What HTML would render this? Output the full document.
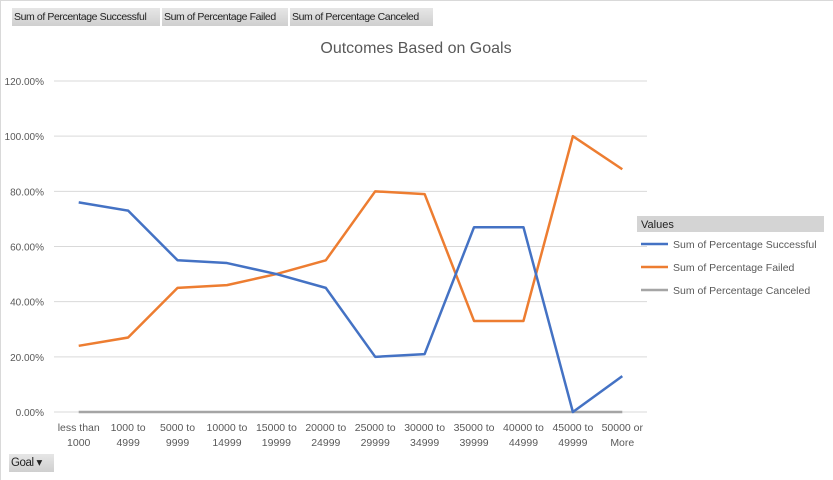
<!DOCTYPE html>
<html><head><meta charset="utf-8"><style>
body{margin:0;background:#fff;font-family:"Liberation Sans",sans-serif}
#wrap{position:relative;width:833px;height:480px;overflow:hidden;background:#fff}
.btn{position:absolute;top:8px;height:18px;background:linear-gradient(#e6e6e6,#cfcfcf);font-size:10.5px;line-height:18px;color:#222;padding:0 2px;box-sizing:border-box;white-space:nowrap;letter-spacing:-0.4px;overflow:hidden}
</style></head><body>
<div id="wrap">
<div style="position:absolute;left:0;top:0;width:832px;height:479px;border:1px solid #d9d9d9"></div>
<div class="btn" style="left:12px;width:148px">Sum of Percentage Successful</div>
<div class="btn" style="left:162px;width:126px">Sum of Percentage Failed</div>
<div class="btn" style="left:290px;width:143px">Sum of Percentage Canceled</div>
<div class="btn" style="left:9px;top:454px;width:45px;font-size:11.5px">Goal ▾</div>
<svg id="svg" width="833" height="480" style="position:absolute;left:0;top:0"></svg>
</div>
<script>
const categories=[["less than","1000"],["1000 to","4999"],["5000 to","9999"],["10000 to","14999"],["15000 to","19999"],["20000 to","24999"],["25000 to","29999"],["30000 to","34999"],["35000 to","39999"],["40000 to","44999"],["45000 to","49999"],["50000 or","More"]];
const successful=[76,73,55,54,50,45,20,21,67,67,0,13];
const failed=[24,27,45,46,50,55,80,79,33,33,100,88];
const canceled=[0,0,0,0,0,0,0,0,0,0,0,0];
const yTicks=[0,20,40,60,80,100,120];
const seriesNames=["Sum of Percentage Successful","Sum of Percentage Failed","Sum of Percentage Canceled"];
const colors=["#4472c4","#ed7d31","#a5a5a5"];
const svg=document.getElementById('svg');const NS="http://www.w3.org/2000/svg";
const x0=54,x1=647,y0=412,y1=81;
const xs=i=>x0+(x1-x0)/categories.length*(i+0.5);
const ys=v=>y0-(y0-y1)*v/120;
function mk(t,a){const e=document.createElementNS(NS,t);for(const k in a)e.setAttribute(k,a[k]);svg.appendChild(e);return e;}
let t=mk('text',{x:416,y:53,'text-anchor':'middle','font-size':16,fill:'#595959'});t.textContent="Outcomes Based on Goals";

yTicks.forEach(v=>{
 const g=mk('line',{x1:x0,x2:x1,y1:ys(v),y2:ys(v),stroke:'#d9d9d9','stroke-width':1});
 
 const l=mk('text',{x:44,y:ys(v)+4,'text-anchor':'end','font-size':10,fill:'#595959'});l.textContent=v.toFixed(2)+"%";
 
});
categories.forEach((c,i)=>{
 c.forEach((s,j)=>{const l=mk('text',{x:xs(i),y:431+j*15,'text-anchor':'middle','font-size':10.5,fill:'#595959'});l.textContent=s;
 });
});
[canceled,failed,successful].forEach((d,k)=>{
 const idx=[2,1,0][k];
 const p=mk('polyline',{points:d.map((v,i)=>xs(i)+','+ys(v)).join(' '),fill:'none',stroke:colors[idx],'stroke-width':2.5,'stroke-linejoin':'round'});
 
});
const lh=mk('rect',{x:637,y:216,width:187,height:16,fill:'#d4d4d4'});

t=mk('text',{x:641,y:228,'font-size':11,fill:'#222'});t.textContent="Values";

seriesNames.forEach((n,i)=>{
 const y=244+i*23;
 const ln=mk('line',{x1:641,x2:668,y1:y,y2:y,stroke:colors[i],'stroke-width':2.5});
 
 const tx=mk('text',{x:673,y:y+4,'font-size':10.5,fill:'#595959'});tx.textContent=n;
 
});
</script>
</body></html>
